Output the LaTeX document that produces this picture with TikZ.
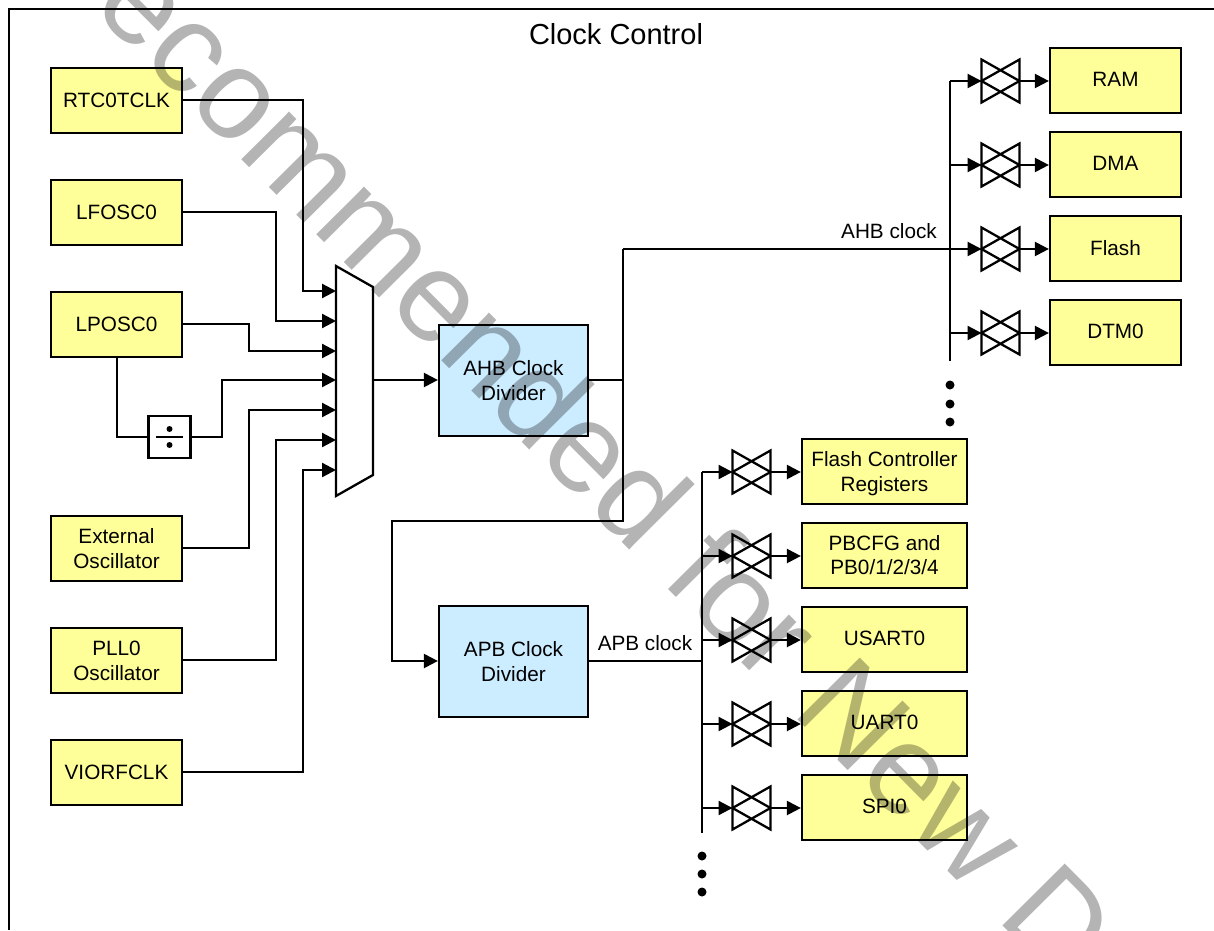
\documentclass[tikz,border=0pt]{standalone}
\usepackage{fontspec}
\setmainfont{Liberation Sans}
\definecolor{boxyellow}{HTML}{FFFF99}
\definecolor{boxblue}{HTML}{CCECFF}
\definecolor{markgray}{HTML}{B4B4B4}
\usepackage{tikz}
\usetikzlibrary{positioning}
\usetikzlibrary{arrows.meta}
\begin{document}
\begin{tikzpicture}[x=0.02cm,y=-0.02cm]
\tikzstyle{lbl}=[font=\fontsize{11.8}{14.2}\selectfont, align=center]
\tikzstyle{source}=[lbl, rectangle, minimum width=2.62cm, minimum height=1.3cm, inner sep=0pt, draw=black, fill=boxyellow, line width=1.3pt]
\tikzstyle{slave}=[source, minimum width=3.3cm]
\tikzstyle{divider}=[source, minimum width=2.98cm, minimum height=2.22cm, fill=boxblue]
\tikzstyle{valve}=[rectangle, minimum width=0.76cm, minimum height=0.86cm, inner sep=0pt, outer sep=0pt]
\tikzstyle{wire}=[line width=1.3pt]
\tikzstyle{connect}=[wire, -{Triangle[length=0.28cm,width=0.28cm]}]
\tikzstyle{busdot}=[circle, minimum size=0.18cm, inner sep=0pt, fill=black]
\tikzstyle{divbox}=[rectangle, minimum size=0.84cm, inner sep=0pt, draw=black, fill=white, line width=1.3pt]
\tikzstyle{muxbody}=[rectangle, minimum width=0.74cm, minimum height=4.6cm, inner sep=0pt, outer sep=0pt]

	\path[use as bounding box, fill=white] (0,0) rectangle (1214,930);

	\coordinate (fr_a) at (1214,9);
	\coordinate (fr_b) at (9,9);
	\coordinate (fr_c) at (9,930);
	\draw[wire] (fr_a) -- (fr_b) -- (fr_c);
	\node[font=\fontsize{16.5}{20}\selectfont] (title) at (616,34) {Clock Control};

	\node[source] (rtc) at (116.5,100.5) {RTC0TCLK};
	\node[source] (lfo) at (116.5,212.5) {LFOSC0};
	\node[source] (lpo) at (116.5,324.5) {LPOSC0};
	\node[source] (ext) at (116.5,548.5) {External\\Oscillator};
	\node[source] (pll) at (116.5,660.5) {PLL0\\Oscillator};
	\node[source] (vio) at (116.5,772.5) {VIORFCLK};

	\node[muxbody] (mux) at (354.5,381) {};
	\draw[wire, fill=white] (mux.north west) -- ([yshift=-0.42cm]mux.north east) -- ([yshift=0.42cm]mux.south east) -- (mux.south west) -- cycle;

	\node[divbox] (div) at (169.5,437) {};
	\draw[wire] ([xshift=-0.27cm]div.center) -- ([xshift=0.27cm]div.center);
	\node[busdot, minimum size=0.12cm] (div_a) at (169.5,429) {};
	\node[busdot, minimum size=0.12cm] (div_b) at (169.5,445) {};

	\foreach \src/\wy/\via/\yy in {rtc/100/303/291, lfo/212/276/321, lpo/324/249/351, ext/548/249/410, pll/660/276/440, vio/772/303/470}
		\draw[connect] (\src.east |- 0,\wy) -| (\via,\yy) -- (mux.west |- 0,\yy);
	\draw[wire] (lpo.south -| 117,0) |- (div.west);
	\draw[connect] (div.east) -| (222,380) -- (mux.west |- 0,380);

	\node[divider] (ahb) at (513.5,380.5) {AHB Clock\\Divider};
	\node[divider] (apb) at (513.5,661.5) {APB Clock\\Divider};
	\draw[connect] (mux.east |- 0,380) -- (ahb.west |- 0,380);

	\coordinate (ahb_top) at (950,81);
	\coordinate (ahb_end) at (950,361);
	\coordinate (ahb_bend) at (623,249);
	\coordinate (ahb_tap) at (623,380);
	\coordinate (apb_bend) at (392,521);
	\coordinate (apb_top) at (702,472);
	\coordinate (apb_end) at (702,833);
	\draw[wire] (ahb_top) -- (ahb_end);
	\draw[wire] (ahb_top |- ahb_bend) -- (ahb_bend);
	\draw[wire] (ahb.east |- ahb_tap) -- (ahb_tap);
	\draw[connect] (ahb_bend) |- (apb_bend) |- (apb.west |- 0,661);
	\draw[wire] (apb_top) -- (apb_end);
	\draw[wire] (apb.east |- 0,661) -- (apb_end |- 0,661);
	\node[lbl] (ahb_clk) at (889,231) {AHB clock};
	\node[lbl] (apb_clk) at (645,643) {APB clock};

	\foreach \nm/\yy/\txt in {ram/81/RAM, dma/165/DMA, flash/249/Flash, dtm/333/DTM0} {
		\node[valve] (v_\nm) at (1000.5,\yy) {};
		\node[source, text depth=0.04cm] (b_\nm) at (1115.5,\yy-0.5) {\txt};
		\draw[wire] (v_\nm.north west) -- (v_\nm.east) -- (v_\nm.south west) -- cycle (v_\nm.north east) -- (v_\nm.west) -- (v_\nm.south east) -- cycle;
		\draw[connect] (ahb_top |- v_\nm.west) -- (v_\nm.west);
		\draw[connect] (v_\nm.east) -- (b_\nm.west |- v_\nm.east);
	}
	\foreach \nm/\yy/\txt/\td in {fc/472/{Flash Controller\\Registers}/0cm, pb/556/{PBCFG and\\PB0/1/2/3/4}/0.02cm, usart/640/USART0/0.06cm, uart/724/UART0/0.06cm, spi/808/SPI0/0.06cm} {
		\node[valve] (v_\nm) at (751.5,\yy) {};
		\node[slave, text depth=\td] (b_\nm) at (884.5,\yy-0.5) {\txt};
		\draw[wire] (v_\nm.north west) -- (v_\nm.east) -- (v_\nm.south west) -- cycle (v_\nm.north east) -- (v_\nm.west) -- (v_\nm.south east) -- cycle;
		\draw[connect] (apb_top |- v_\nm.west) -- (v_\nm.west);
		\draw[connect] (v_\nm.east) -- (b_\nm.west |- v_\nm.east);
	}

	\foreach \yy in {385,404,422}
		\node[busdot] (ahb_dot\yy) at (950,\yy) {};
	\foreach \yy in {856,874,892}
		\node[busdot] (apb_dot\yy) at (702,\yy) {};

	\begin{scope}[blend mode=multiply]
		\node[anchor=base west, rotate=-45.2, inner sep=0pt, text=markgray, font=\fontsize{72.7}{80}\selectfont] (mark) at (90,7) {ecommended for New D};
	\end{scope}
\end{tikzpicture}
\end{document}
